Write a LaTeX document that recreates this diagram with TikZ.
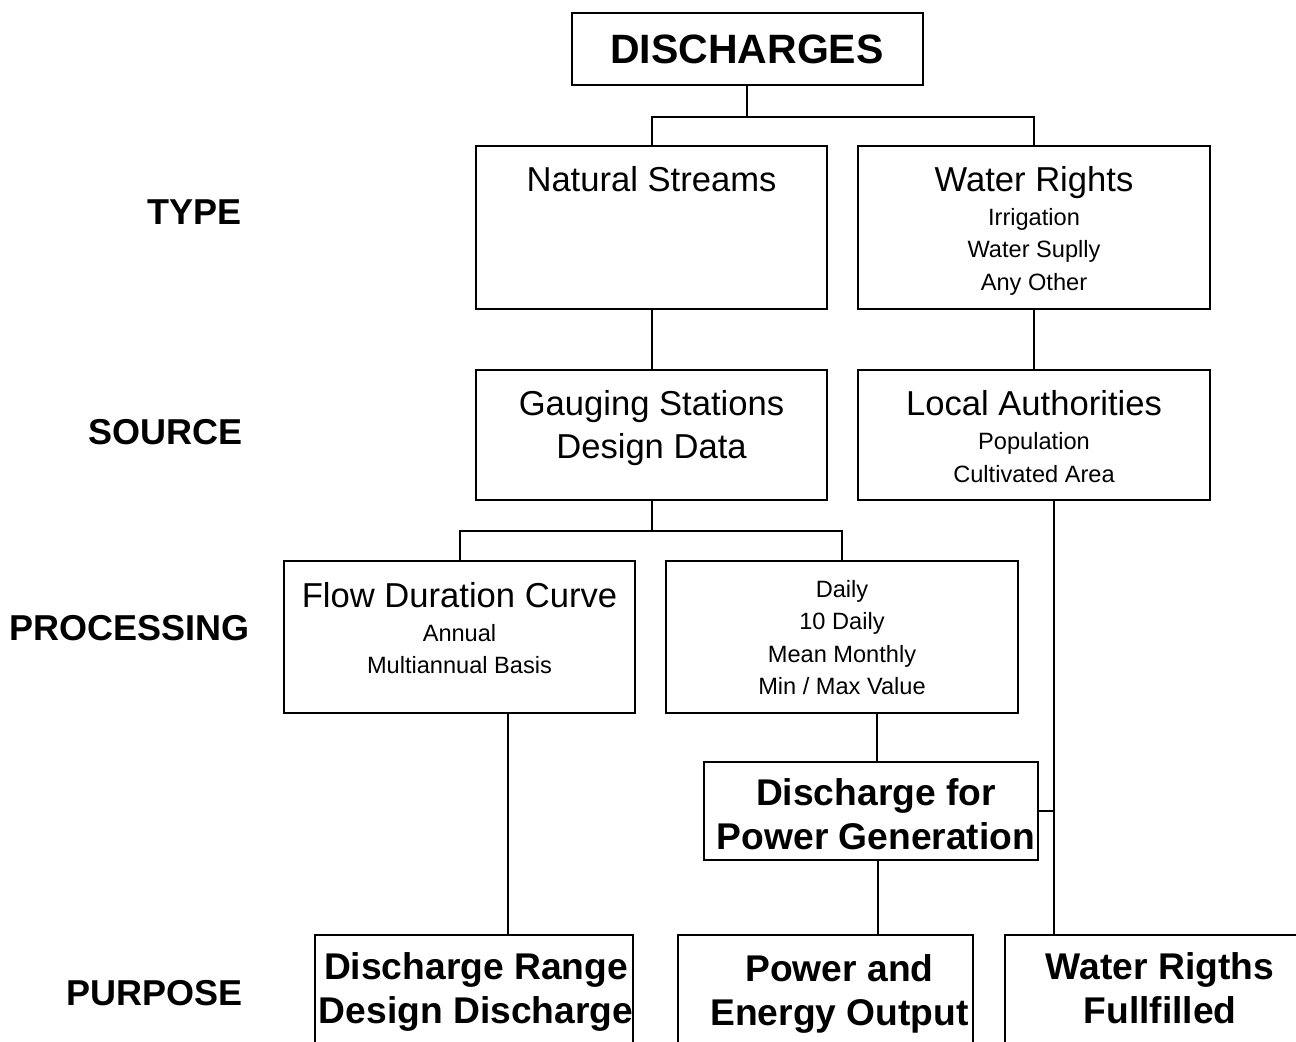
\documentclass[tikz,border=0pt]{standalone}
\usepackage{fontspec}
\setmainfont{Liberation Sans}
\usepackage{tikz}
\usetikzlibrary{positioning,calc}

\newcommand{\fhead}{\fontsize{20.5pt}{24pt}\selectfont\bfseries}
\newcommand{\fbig}{\fontsize{17.3pt}{21.5pt}\selectfont}
\newcommand{\fsmall}{\fontsize{11.8pt}{16.25pt}\selectfont}
\newcommand{\fbold}{\fontsize{18.6pt}{22pt}\selectfont\bfseries}
% fixed size box, text hung from the top: [shift right], width, height, first baseline, text
\newcommand{\boxtxt}[5][0pt]{\parbox[c][#3][t]{#2}{\centering\leftskip=#1 plus 1fil\rightskip=-#1 plus 1fil\lineskiplimit=-\maxdimen\rule{0pt}{#4}#5}}

\begin{document}
\begin{tikzpicture}[x=0.5pt, y=-0.5pt,
    block/.style={rectangle, draw, line width=1pt, inner sep=0pt},
    lbl/.style={anchor=east, inner sep=0pt, font=\fontsize{18pt}{21pt}\selectfont\bfseries},
    line/.style={draw, line width=1pt}]
    \path[use as bounding box, clip] (0,0) rectangle (1296,1042);

    % Top
    \node [block, minimum width=175.5pt, minimum height=36pt, font=\fhead] (disch) at (747,49) {DISCHARGES};

    % Row 1: Type
    \node [lbl] (type) at (242,212) {TYPE};
    \node [block] (nat) at (651.5,227.5) {\boxtxt{175.5pt}{81.5pt}{22.7pt}{\fbig Natural Streams}};
    \node [block] (wr) at (1034,227.5) {\boxtxt{176pt}{81.5pt}{22.7pt}{\fbig Water Rights\\[0.75pt]\fsmall Irrigation\\Water Suplly\\Any Other}};

    % Row 2: Source
    \node [lbl] (src) at (243,432) {SOURCE};
    \node [block] (gauge) at (651.5,435) {\boxtxt{175.5pt}{65pt}{22.7pt}{\fbig Gauging Stations\\Design Data}};
    \node [block] (local) at (1034,435) {\boxtxt{176pt}{65pt}{22.7pt}{\fbig Local Authorities\\[0.75pt]\fsmall Population\\[0.25pt]Cultivated Area}};

    % Row 3: Processing
    \node [lbl] (proc) at (250,628) {PROCESSING};
    \node [block] (fdc) at (459.5,637) {\boxtxt{175.5pt}{76pt}{23.2pt}{\fbig Flow Duration Curve\\[0.75pt]\fsmall Annual\\[-0.25pt]Multiannual Basis}};
    \node [block] (daily) at (842,637) {\boxtxt{176pt}{76pt}{18.25pt}{\fsmall Daily\\10 Daily\\Mean Monthly\\Min / Max Value}};
    \node [block] (dpg) at (871,811) {\boxtxt[2.5pt]{167pt}{49pt}{21.65pt}{\fbold Discharge for\\Power Generation}};

    % Row 4: Purpose
    \node [lbl] (purp) at (243,993) {PURPOSE};
    \node [block] (range) at (474,1000) {\boxtxt[1pt]{159pt}{65pt}{22pt}{\fbold Discharge Range\\Design Discharge}};
    \node [block] (peo) at (825.5,1000) {\boxtxt[7pt]{147.5pt}{65pt}{23pt}{\fbold Power and\\Energy Output}};
    \node [block] (wrf) at (1160,1000) {\boxtxt{155pt}{65pt}{22pt}{\fbold Water Rigths\\Fullfilled}};

    % Connectors
    \coordinate (j1) at (747,117);
    \coordinate (j2) at (651.5,531);
    \coordinate (la) at ([xshift=10pt]local.south);
    \draw [line] (disch.south) -- (j1);
    \draw [line] (nat.north) |- (j1) -| (wr.north);
    \draw [line] (nat.south) -- (gauge.north);
    \draw [line] (wr.south) -- (local.north);
    \draw [line] (gauge.south) -- (j2);
    \draw [line] (fdc.north) |- (j2) -| (daily.north);
    \draw [line] ([xshift=24.25pt]fdc.south) -- ([xshift=24.25pt]fdc.south |- range.north);
    \draw [line] ([xshift=3pt]dpg.north) -- ([xshift=3pt]dpg.north |- daily.south);
    \draw [line] ([xshift=3.5pt]dpg.south) -- ([xshift=3.5pt]dpg.south |- peo.north);
    \draw [line] (la) -- (la |- wrf.north);
    \draw [line] (dpg.east) -- (dpg.east -| la);
\end{tikzpicture}
\end{document}
